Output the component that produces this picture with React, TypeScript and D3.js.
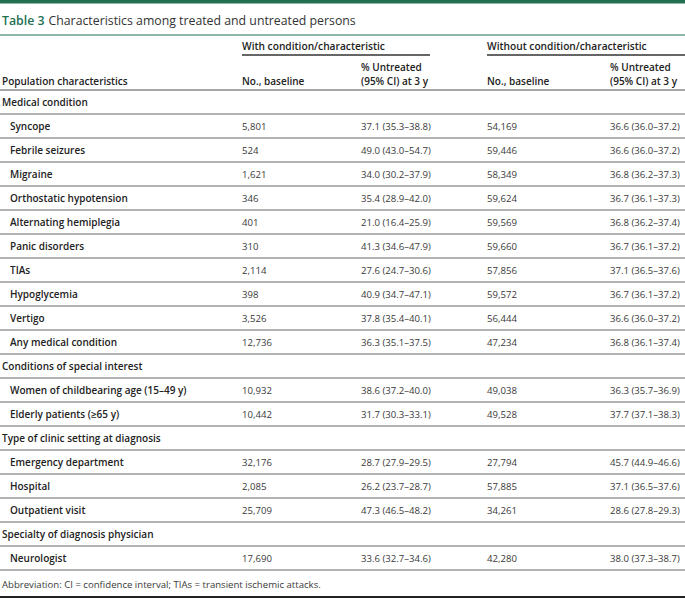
import * as d3 from "d3";

const groups = [
  "Medical condition",
  "Conditions of special interest",
  "Type of clinic setting at diagnosis",
  "Specialty of diagnosis physician",
];
const characteristics = [
  "Syncope",
  "Febrile seizures",
  "Migraine",
  "Orthostatic hypotension",
  "Alternating hemiplegia",
  "Panic disorders",
  "TIAs",
  "Hypoglycemia",
  "Vertigo",
  "Any medical condition",
  "Women of childbearing age (15–49 y)",
  "Elderly patients (≥65 y)",
  "Emergency department",
  "Hospital",
  "Outpatient visit",
  "Neurologist",
];
const groupIndex = [0, 0, 0, 0, 0, 0, 0, 0, 0, 0, 1, 1, 2, 2, 2, 3];
const withN = [5801, 524, 1621, 346, 401, 310, 2114, 398, 3526, 12736, 10932, 10442, 32176, 2085, 25709, 17690];
const withPct = [
  "37.1 (35.3–38.8)", "49.0 (43.0–54.7)", "34.0 (30.2–37.9)", "35.4 (28.9–42.0)",
  "21.0 (16.4–25.9)", "41.3 (34.6–47.9)", "27.6 (24.7–30.6)", "40.9 (34.7–47.1)",
  "37.8 (35.4–40.1)", "36.3 (35.1–37.5)", "38.6 (37.2–40.0)", "31.7 (30.3–33.1)",
  "28.7 (27.9–29.5)", "26.2 (23.7–28.7)", "47.3 (46.5–48.2)", "33.6 (32.7–34.6)",
];
const withoutN = [54169, 59446, 58349, 59624, 59569, 59660, 57856, 59572, 56444, 47234, 49038, 49528, 27794, 57885, 34261, 42280];
const withoutPct = [
  "36.6 (36.0–37.2)", "36.6 (36.0–37.2)", "36.8 (36.2–37.3)", "36.7 (36.1–37.3)",
  "36.8 (36.2–37.4)", "36.7 (36.1–37.2)", "37.1 (36.5–37.6)", "36.7 (36.1–37.2)",
  "36.6 (36.0–37.2)", "36.8 (36.1–37.4)", "36.3 (35.7–36.9)", "37.7 (37.1–38.3)",
  "45.7 (44.9–46.6)", "37.1 (36.5–37.6)", "28.6 (27.8–29.3)", "38.0 (37.3–38.7)",
];
const columnHeaders = ["Population characteristics", "No., baseline", "% Untreated", "(95% CI) at 3 y"];
const spanHeaders = ["With condition/characteristic", "Without condition/characteristic"];
const title = "Characteristics among treated and untreated persons";
const footnote = "Abbreviation: CI = confidence interval; TIAs = transient ischemic attacks.";

type Row = { kind: "group" | "item"; label: string; i: number };

export default function App() {
  const W = 685;
  const H = 600;
  const green = "#226f52";
  const font = "'Open Sans', 'Noto Sans', sans-serif";
  const fmt = d3.format(",");
  const bold = 600;
  const bs = 10; // bold size
  const rs = 9.6; // regular size

  const rows: Row[] = [];
  groups.forEach((g, gi) => {
    rows.push({ kind: "group", label: g, i: gi });
    characteristics.forEach((c, ci) => {
      if (groupIndex[ci] === gi) rows.push({ kind: "item", label: c, i: ci });
    });
  });

  const y = d3.scaleLinear().domain([0, rows.length]).range([90, 90 + rows.length * 24]);
  const x = { label: 2, indent: 10, n1: 242, p1: 361, n2: 487, p2: 610 };

  return (
    <svg width={W} height={H} style={{ position: "absolute", left: 0, top: 0, background: "#fff" }} fontFamily={font}>
      <rect x={0} y={0} width={W} height={3.5} fill={green} />
      <text x={2} y={25} fontSize={12.3} fill="#333">
        <tspan fontWeight={bold} fill={green}>Table 3</tspan>
        <tspan dx={4}>{title}</tspan>
      </text>
      <line x1={0} x2={W} y1={35} y2={35} stroke={green} strokeWidth={1.2} />

      <text x={x.n1} y={50} fontSize={10.2} fontWeight={bold} fill="#222">{spanHeaders[0]}</text>
      <line x1={x.n1} x2={430} y1={55} y2={55} stroke="#666" strokeWidth={2} />
      <text x={x.n2} y={50} fontSize={10.2} fontWeight={bold} fill="#222">{spanHeaders[1]}</text>
      <line x1={x.n2} x2={W} y1={55} y2={55} stroke="#666" strokeWidth={2} />

      <g fontSize={bs} fontWeight={bold} fill="#222">
        <text x={x.label} y={85}>{columnHeaders[0]}</text>
        <text x={x.n1} y={85}>{columnHeaders[1]}</text>
        <text x={x.p1} y={71}>{columnHeaders[2]}</text>
        <text x={x.p1} y={85}>{columnHeaders[3]}</text>
        <text x={x.n2} y={85}>{columnHeaders[1]}</text>
        <text x={x.p2} y={71}>{columnHeaders[2]}</text>
        <text x={x.p2} y={85}>{columnHeaders[3]}</text>
      </g>
      <line x1={0} x2={W} y1={y(0)} y2={y(0)} stroke="#888" strokeWidth={1.5} />

      {rows.map((r, k) => {
        const cy = (y(k) + y(k + 1)) / 2 + 4;
        return (
          <g key={k}>
            {r.kind === "group" ? (
              <text x={x.label} y={cy} fontSize={bs} fontWeight={bold} fill="#222">{r.label}</text>
            ) : (
              <g fontSize={rs}>
                <text x={x.indent} y={cy} fontSize={bs} fontWeight={bold} fill="#222">{r.label}</text>
                <text x={x.n1} y={cy} fill="#3a3a3a">{fmt(withN[r.i])}</text>
                <text x={x.p1} y={cy} fill="#3a3a3a">{withPct[r.i]}</text>
                <text x={x.n2} y={cy} fill="#3a3a3a">{fmt(withoutN[r.i])}</text>
                <text x={x.p2} y={cy} fill="#3a3a3a">{withoutPct[r.i]}</text>
              </g>
            )}
            <line x1={0} x2={W} y1={y(k + 1)} y2={y(k + 1)} stroke="#999" strokeWidth={1.5} />
          </g>
        );
      })}

      <text x={x.label} y={y(rows.length) + 18} fontSize={9.6} fill="#3a3a3a">{footnote}</text>
      <line x1={0} x2={W} y1={597} y2={597} stroke="#222" strokeWidth={2} />
    </svg>
  );
}
